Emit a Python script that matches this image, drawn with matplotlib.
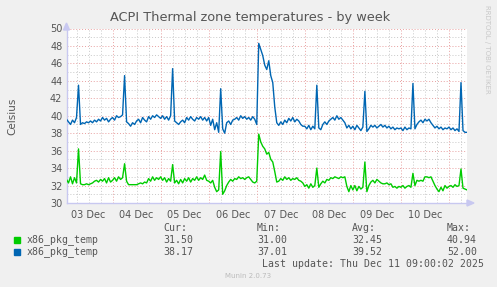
import matplotlib
matplotlib.use("Agg")
import matplotlib.pyplot as plt
import numpy as np

W, H = 497, 287

# hours since 03 Dec 00:00, hourly samples from 01:00 on 03 Dec to 09:00 on 11 Dec
hours = list(range(1, 202))

green = [
    # 03 Dec (t1..23)
    32.7, 32.3, 33.0, 32.2, 32.9, 32.3, 36.2, 32.2, 32.1, 32.1, 32.2, 32.1, 32.2, 32.3, 32.5, 32.6, 32.4, 32.7, 32.5, 32.8, 32.3, 32.9, 32.4,
    # 04 Dec
    32.6, 32.9, 32.5, 33.0, 32.7, 32.9, 34.5, 32.5, 32.1, 32.1, 32.1, 32.1, 32.1, 32.2, 32.3, 32.2, 32.4, 32.3, 32.8, 32.5, 33.0, 32.6, 32.9, 32.7,
    # 05 Dec
    33.0, 32.6, 32.9, 32.4, 32.8, 32.5, 34.4, 32.3, 32.6, 32.2, 32.7, 32.3, 32.8, 32.5, 32.9, 32.4, 32.8, 32.6, 33.0, 32.6, 32.9, 32.7, 33.2, 32.6,
    # 06 Dec
    32.5, 32.3, 32.6, 31.8, 31.3, 31.5, 35.9, 31.0, 31.4, 32.0, 32.4, 32.7, 32.5, 32.8, 32.7, 33.0, 32.8, 32.9, 32.7, 32.9, 33.0, 32.7, 32.4, 32.3,
    # 07 Dec
    32.5, 37.9, 37.0, 36.5, 36.2, 35.6, 35.8, 35.0, 34.7, 33.6, 32.4, 32.5, 32.8, 32.6, 33.0, 32.7, 32.9, 32.6, 32.8, 32.7, 32.9, 32.6, 32.5, 32.3,
    # 08 Dec
    31.9, 32.1, 31.7, 32.2, 31.8, 32.0, 34.0, 31.8, 32.2, 32.5, 32.3, 32.7, 32.6, 32.9, 32.8, 33.0, 32.9, 32.8, 33.0, 32.9, 33.0, 31.9, 31.3, 32.0,
    # 09 Dec
    31.5, 32.0, 31.4, 31.9, 31.6, 31.8, 34.7, 31.3, 32.0, 32.4, 32.6, 32.3, 32.7, 32.5, 32.3, 32.2, 32.2, 32.3, 32.1, 32.2, 31.8, 31.9, 31.7, 31.9,
    # 10 Dec
    31.8, 32.0, 31.7, 31.9, 32.0, 31.8, 33.4, 32.0, 32.6, 32.5, 32.6, 32.5, 33.0, 33.0, 32.9, 33.0, 32.5, 32.0, 31.6, 31.3, 31.8, 31.4, 32.0, 31.7,
    # 11 Dec (t192..201)
    31.9, 32.0, 31.8, 32.1, 31.9, 32.0, 33.9, 31.7, 31.6, 31.5,
]

blue = [
    # 03 Dec
    39.6, 39.3, 39.0, 39.5, 39.2, 39.8, 43.5, 39.0, 39.2, 39.1, 39.3, 39.2, 39.4, 39.2, 39.5, 39.3, 39.6, 39.4, 39.8, 39.5, 39.7, 39.3, 39.6,
    # 04 Dec
    39.8, 39.5, 40.0, 39.8, 39.9, 40.1, 44.6, 39.3, 39.1, 38.8, 39.2, 39.0, 39.4, 39.6, 39.2, 39.8, 39.5, 39.3, 39.9, 39.6, 40.0, 39.8, 40.1, 39.9,
    # 05 Dec
    39.7, 40.0, 39.6, 39.9, 39.5, 40.0, 45.4, 39.4, 39.2, 39.0, 39.3, 39.5, 39.2, 39.8, 39.5, 39.9, 39.6, 39.4, 39.8, 39.6, 39.9, 39.5, 39.8, 39.4,
    # 06 Dec
    39.8, 38.9, 39.6, 38.4, 39.2, 38.1, 43.1, 38.5, 38.0, 39.2, 39.4, 39.0, 39.5, 39.6, 39.8, 39.5, 40.0, 39.7, 39.9, 39.6, 39.8, 39.5, 39.9, 39.6,
    # 07 Dec
    39.0, 48.3, 47.6, 46.9, 45.8, 45.3, 46.3, 44.6, 43.8, 41.0, 39.2, 38.9, 39.3, 39.0, 39.5, 39.2, 39.7, 39.4, 39.8, 39.3, 39.6, 39.4, 39.0, 38.8,
    # 08 Dec
    38.8, 38.5, 38.9, 38.4, 38.8, 38.5, 43.5, 38.6, 38.4, 39.0, 39.3, 39.0, 39.4, 39.6, 39.8, 39.5, 40.0, 39.6, 39.8, 39.5, 39.2, 38.6, 38.9, 38.5,
    # 09 Dec
    38.8, 38.4, 38.9, 38.6, 38.3, 38.7, 42.8, 38.2, 38.5, 38.9, 38.7, 38.9, 38.6, 38.8, 39.0, 38.7, 38.9, 38.6, 38.8, 38.5, 38.7, 38.4, 38.6, 38.5,
    # 10 Dec
    38.6, 38.3, 38.7, 38.4, 38.6, 38.5, 43.7, 38.5, 39.0, 39.3, 39.5, 39.2, 39.6, 39.4, 39.6, 39.2, 38.9, 38.6, 38.8, 38.5, 38.7, 38.4, 38.6, 38.5,
    # 11 Dec
    38.7, 38.4, 38.6, 38.3, 38.5, 38.2, 43.8, 38.3, 38.1, 38.1,
]

day_labels = ["03 Dec", "04 Dec", "05 Dec", "06 Dec", "07 Dec", "08 Dec", "09 Dec", "10 Dec"]
series_names = ["x86_pkg_temp", "x86_pkg_temp"]
cur_vals = ["31.50", "38.17"]
min_vals = ["31.00", "37.01"]
avg_vals = ["32.45", "39.52"]
max_vals = ["40.94", "52.00"]
colors = ["#00CC00", "#0066B3"]

x_start, x_end = 1.0, 201.0
y_min, y_max = 30, 50

fig = plt.figure(figsize=(W / 100, H / 100), dpi=100, facecolor="#F0F0F0")

def fx(px):
    return px / W

def fy(py):
    return 1 - py / H

ax_l, ax_r, ax_t, ax_b = 66.5, 467.0, 28.5, 203.0
ax = fig.add_axes([fx(ax_l), fy(ax_b), fx(ax_r - ax_l), (ax_b - ax_t) / H])
ax.set_facecolor("white")
ax.set_xlim(x_start, x_end)
ax.set_ylim(y_min, y_max)

# grid
for yv in range(y_min, y_max + 1):
    if yv % 2 == 0:
        ax.axhline(yv, color="#E8A0A0", lw=0.7, ls=(0, (1, 2)), zorder=1)
    else:
        ax.axhline(yv, color="#C8C8C8", lw=0.7, ls=(0, (1, 2)), zorder=1)
for hv in range(0, 205, 6):
    if hv < x_start or hv > x_end:
        continue
    if hv % 24 == 0:
        ax.axvline(hv, color="#E8A0A0", lw=0.7, ls=(0, (1, 2)), zorder=1)
    else:
        ax.axvline(hv, color="#C8C8C8", lw=0.7, ls=(0, (1, 2)), zorder=1)

ax.plot(hours, green, color=colors[0], lw=1.0, zorder=3)
ax.plot(hours, blue, color=colors[1], lw=1.0, zorder=3)

for s in ["top", "right"]:
    ax.spines[s].set_visible(False)
for s in ["left", "bottom"]:
    ax.spines[s].set_color("#C8C8F0")
    ax.spines[s].set_linewidth(1.0)

ax.set_yticks(range(y_min, y_max + 1, 2))
ax.set_xticks([12 + 24 * i for i in range(len(day_labels))])
ax.set_xticklabels(day_labels)
ax.tick_params(axis="both", length=0, labelsize=7, colors="#555555", pad=3)
ax.tick_params(axis="x", pad=5)

# axis arrows
fig.patches.append(plt.Polygon([[fx(63.5), fy(30)], [fx(69.5), fy(30)], [fx(66.5), fy(23)]],
                               closed=True, transform=fig.transFigure, color="#C8C8F0"))
fig.patches.append(plt.Polygon([[fx(467), fy(200)], [fx(467), fy(206)], [fx(474), fy(203)]],
                               closed=True, transform=fig.transFigure, color="#C8C8F0"))

fig.text(fx(250), fy(18), "ACPI Thermal zone temperatures - by week", ha="center", va="center",
         fontsize=9.3, color="#555555")
fig.text(fx(12), fy(116), "Celsius", rotation=90, ha="center", va="center", fontsize=7.5, color="#555555")
fig.text(fx(487), fy(5), "RRDTOOL / TOBI OETIKER", rotation=270, ha="center", va="top",
         fontsize=5, color="#C8C8C8")

mono = "DejaVu Sans Mono"
fs = 7.1
tc = "#555555"
fig.text(fx(163), fy(228), "Cur:", family=mono, fontsize=fs, color=tc, va="center")
fig.text(fx(257), fy(228), "Min:", family=mono, fontsize=fs, color=tc, va="center")
fig.text(fx(352), fy(228), "Avg:", family=mono, fontsize=fs, color=tc, va="center")
fig.text(fx(447), fy(228), "Max:", family=mono, fontsize=fs, color=tc, va="center")
rows_y = [240, 252]
for i in range(2):
    yy = rows_y[i]
    fig.patches.append(plt.Rectangle((fx(14), fy(yy + 3)), fx(6), 6 / H, transform=fig.transFigure,
                                     color=colors[i]))
    fig.text(fx(27), fy(yy), series_names[i], family=mono, fontsize=fs, color=tc, va="center")
    fig.text(fx(163), fy(yy), cur_vals[i], family=mono, fontsize=fs, color=tc, va="center")
    fig.text(fx(257), fy(yy), min_vals[i], family=mono, fontsize=fs, color=tc, va="center")
    fig.text(fx(352), fy(yy), avg_vals[i], family=mono, fontsize=fs, color=tc, va="center")
    fig.text(fx(447), fy(yy), max_vals[i], family=mono, fontsize=fs, color=tc, va="center")

fig.text(fx(262), fy(264), "Last update: Thu Dec 11 09:00:02 2025", family=mono, fontsize=fs,
         color=tc, va="center")
fig.text(fx(248), fy(276), "Munin 2.0.73", ha="center", va="center", fontsize=5, color="#BBBBBB")

fig.savefig("out.png", dpi=100, facecolor=fig.get_facecolor())
